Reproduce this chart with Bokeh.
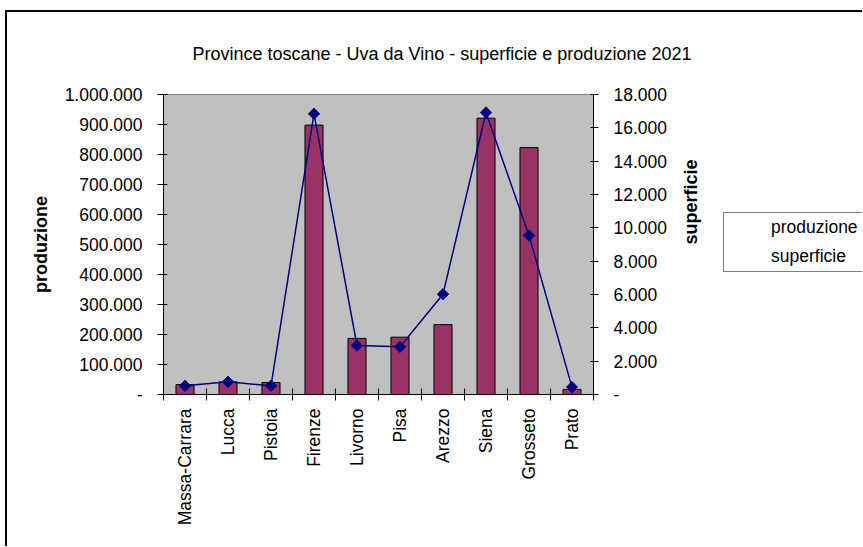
import math
from bokeh.plotting import figure
from bokeh.layouts import row
from bokeh.models import (FactorRange, Range1d, LinearAxis, FixedTicker,
                          Legend, LegendItem, ColumnDataSource)
from bokeh.embed import file_html
from bokeh.resources import INLINE

# ---- data ----
provinces = ["Massa-Carrara", "Lucca", "Pistoia", "Firenze", "Livorno",
             "Pisa", "Arezzo", "Siena", "Grosseto", "Prato"]
produzione = [33000, 42000, 40000, 898000, 187000, 191000, 233000, 921000, 823000, 17000]
superficie = [520, 760, 520, 16840, 2940, 2860, 6020, 16920, 9540, 440]

prod_ticks = [0, 100000, 200000, 300000, 400000, 500000, 600000, 700000, 800000, 900000, 1000000]
prod_tick_labels = ["-", "100.000", "200.000", "300.000", "400.000", "500.000",
                    "600.000", "700.000", "800.000", "900.000", "1.000.000"]
sup_ticks = [0, 2000, 4000, 6000, 8000, 10000, 12000, 14000, 16000, 18000]
sup_tick_labels = ["-", "2.000", "4.000", "6.000", "8.000", "10.000",
                   "12.000", "14.000", "16.000", "18.000"]

title_text = "Province toscane - Uva da Vino - superficie e produzione 2021"
FONT = "Liberation Sans"
FS = "17.5px"
BAR_COLOR = "#993366"
LINE_COLOR = "#000080"

src = ColumnDataSource(dict(prov=provinces, prod=produzione, sup=superficie))

p = figure(width=713, height=534,
           x_range=FactorRange(factors=provinces),
           y_range=Range1d(prod_ticks[0], prod_ticks[-1]),
           output_backend="svg", toolbar_location=None,
           x_axis_location=None, y_axis_location=None,
           min_border_left=156, min_border_right=127,
           min_border_top=82, min_border_bottom=152,
           background_fill_color="#C0C0C0", border_fill_color="white",
           outline_line_color="#808080", outline_line_width=1)
p.xgrid.visible = False
p.ygrid.visible = False
p.extra_y_ranges = {"sup": Range1d(sup_ticks[0], sup_ticks[-1])}

# title
p.title.text = title_text
p.title.align = "left"
p.title.vertical_align = "top"
p.title.text_font = FONT
p.title.text_font_style = "normal"
p.title.text_font_size = "18px"
p.title.text_color = "black"
p.title.offset = 29
p.title.standoff = 58

# left axis
yl = LinearAxis(ticker=FixedTicker(ticks=prod_ticks),
                major_label_overrides=dict(zip(prod_ticks, prod_tick_labels)),
                axis_label="produzione",
                axis_label_text_font=FONT, axis_label_text_font_style="bold",
                axis_label_text_font_size="18px", axis_label_standoff=11,
                axis_label_text_color="black",
                major_label_text_font=FONT, major_label_text_font_size=FS,
                major_label_text_color="black",
                major_label_standoff=15, major_tick_in=4, major_tick_out=6,
                minor_tick_line_color=None, axis_line_color="black",
                major_tick_line_color="black")
p.add_layout(yl, "left")

# right axis
yr = LinearAxis(y_range_name="sup", ticker=FixedTicker(ticks=sup_ticks),
                major_label_overrides=dict(zip(sup_ticks, sup_tick_labels)),
                axis_label="superficie", axis_label_orientation=math.pi / 2,
                axis_label_text_font=FONT, axis_label_text_font_style="bold",
                axis_label_text_font_size="18px", axis_label_standoff=21,
                axis_label_text_color="black",
                major_label_text_font=FONT, major_label_text_font_size=FS,
                major_label_text_color="black",
                major_label_standoff=15, major_tick_in=3, major_tick_out=5,
                minor_tick_line_color=None, axis_line_color="black",
                major_tick_line_color="black")
p.add_layout(yr, "right")

# bottom axis: labels at category centres, tick marks between categories
centers = [i + 0.5 for i in range(len(provinces))]
edges = list(range(len(provinces) + 1))
xa = LinearAxis(ticker=FixedTicker(ticks=centers, minor_ticks=edges),
                major_label_overrides=dict(zip(centers, provinces)),
                major_label_orientation=math.pi / 2,
                major_label_standoff=8,
                major_label_text_font=FONT, major_label_text_font_size=FS,
                major_label_text_color="black",
                major_tick_line_color=None, major_tick_in=0, major_tick_out=6,
                minor_tick_line_color="black", minor_tick_in=6, minor_tick_out=6,
                axis_line_color="black")
p.add_layout(xa, "below")

# glyphs
p.vbar(x="prov", top="prod", width=0.42, source=src,
       fill_color=BAR_COLOR, line_color="black", line_width=1)
p.line(x="prov", y="sup", source=src, y_range_name="sup",
       line_color=LINE_COLOR, line_width=1.5)
p.scatter(x="prov", y="sup", source=src, y_range_name="sup", marker="square",
          angle=math.pi / 4, size=8, fill_color=LINE_COLOR, line_color=LINE_COLOR)

# legend panel (separate canvas to the right, same styling as the series)
lf = figure(width=142, height=534, output_backend="svg", toolbar_location=None,
            x_axis_location=None, y_axis_location=None,
            x_range=Range1d(0, 1), y_range=Range1d(0, 1),
            min_border=0, outline_line_color=None,
            background_fill_color="white", border_fill_color="white")
lf.xgrid.visible = False
lf.ygrid.visible = False
empty = ColumnDataSource(dict(x=[], y=[]))
lg_bar = lf.vbar(x="x", top="y", width=0.42, source=empty,
                 fill_color=BAR_COLOR, line_color="black", line_width=1)
lg_line = lf.line(x="x", y="y", source=empty, line_color=LINE_COLOR, line_width=1.5)
lg_mark = lf.scatter(x="x", y="y", source=empty, marker="square", angle=math.pi / 4,
                     size=8, fill_color=LINE_COLOR, line_color=LINE_COLOR)
legend = Legend(items=[LegendItem(label="produzione", renderers=[lg_bar]),
                       LegendItem(label="superficie", renderers=[lg_line, lg_mark])],
                location=(3, 122),
                border_line_color="black", border_line_width=1,
                background_fill_color="white", background_fill_alpha=1,
                label_text_font=FONT, label_text_font_size=FS,
                label_text_color="black",
                glyph_width=40, glyph_height=10, label_standoff=3,
                padding=4, spacing=8, margin=0)
lf.add_layout(legend)

layout = row(p, lf, styles={"border-left": "2px solid black", "border-top": "2px solid black",
                            "margin-left": "5px", "margin-top": "10px"})

open("out.html", "w").write(file_html(layout, INLINE))
